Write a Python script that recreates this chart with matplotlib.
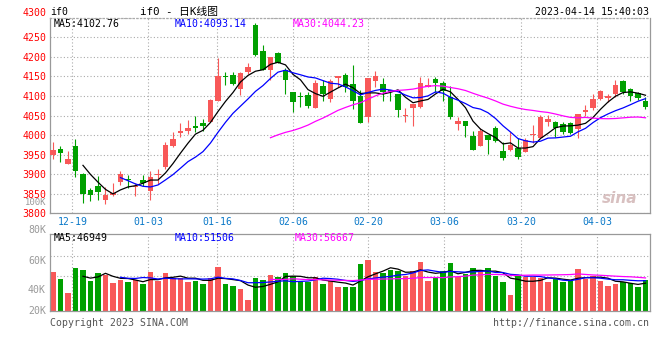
import numpy as np
import pandas as pd
import matplotlib
matplotlib.use('Agg')
import matplotlib.pyplot as plt
import matplotlib.transforms as mtransforms

plt.rcParams['font.family'] = ['DejaVu Sans Mono', 'Noto Sans CJK SC']

# ---------------- data ----------------
opens = [3950, 3965, 3927, 3972, 3900, 3860, 3869, 3833, 3847, 3881,
         3888, 3866, 3885, 3858, 3897, 3919, 3972, 4006, 4011, 4023,
         4031, 4034, 4087, 4151, 4154, 4119, 4160, 4282, 4215, 4167,
         4209, 4167, 4109, 4100, 4102, 4068, 4126, 4093, 4147, 4154,
         4131, 4100, 4047, 4139, 4131, 4115, 4105, 4048, 4068, 4073,
         4124, 4144, 4133, 4098, 4028, 4036, 3998, 3972, 3999, 4017,
         3958, 3963, 3966, 3956, 4000, 3992, 4033, 4033, 4028, 4030,
         4015, 4058, 4070, 4092, 4095, 4104, 4138, 4118, 4107, 4086]
highs = [3981, 3971, 3959, 3990, 3902, 3865, 3896, 3868, 3877, 3909,
         3897, 3877, 3898, 3909, 3913, 3983, 4007, 4030, 4039, 4049,
         4041, 4092, 4196, 4162, 4161, 4162, 4183, 4286, 4230, 4200,
         4212, 4171, 4110, 4111, 4109, 4141, 4141, 4144, 4150, 4158,
         4178, 4115, 4146, 4164, 4145, 4115, 4105, 4070, 4080, 4149,
         4147, 4149, 4137, 4126, 4045, 4036, 4011, 4017, 3999, 4023,
         3983, 4007, 3992, 3992, 4026, 4051, 4051, 4036, 4033, 4033,
         4054, 4077, 4105, 4115, 4105, 4141, 4140, 4121, 4111, 4098]
lows = [3939, 3930, 3927, 3894, 3826, 3832, 3833, 3824, 3845, 3873,
        3864, 3843, 3871, 3833, 3876, 3913, 3970, 3996, 4002, 4009,
        4010, 4033, 4087, 4128, 4128, 4103, 4157, 4203, 4167, 4141,
        4184, 4105, 4060, 4073, 4070, 4068, 4087, 4084, 4124, 4110,
        4066, 4032, 4034, 4124, 4088, 4088, 4045, 4034, 4024, 4068,
        4124, 4111, 4086, 4041, 4013, 3996, 3962, 3972, 3951, 3982,
        3935, 3958, 3938, 3956, 3979, 3992, 4024, 3996, 4003, 4002,
        3992, 4050, 4064, 4089, 4084, 4098, 4106, 4087, 4090, 4066]
closes = [3962, 3953, 3939, 3909, 3850, 3846, 3854, 3847, 3851, 3901,
          3884, 3870, 3878, 3892, 3901, 3975, 3990, 4011, 4019, 4017,
          4024, 4090, 4151, 4148, 4131, 4158, 4174, 4205, 4167, 4200,
          4184, 4141, 4084, 4097, 4075, 4133, 4106, 4138, 4150, 4124,
          4087, 4032, 4146, 4150, 4109, 4109, 4064, 4051, 4080, 4132,
          4128, 4134, 4113, 4045, 4036, 4022, 3962, 4011, 3988, 3985,
          3941, 3975, 3945, 3988, 4003, 4045, 4041, 4017, 4009, 4006,
          4054, 4064, 4092, 4113, 4099, 4128, 4111, 4101, 4096, 4073]
volumes = [67260, 54720, 30780, 74100, 70110, 51300, 64980, 61560, 48450, 53010,
           49590, 52440, 46740, 67260, 51870, 64980, 57000, 57000, 49590, 51870,
           46740, 56430, 75810, 46170, 43320, 37620, 18810, 57000, 53010, 61560,
           58710, 64980, 59850, 51300, 49020, 58710, 46170, 50730, 41610, 41610,
           41610, 80370, 87210, 66690, 64980, 70110, 68970, 60420, 68400, 83790,
           51300, 58140, 68400, 82080, 58140, 63270, 74100, 70110, 74100, 59280,
           49590, 27360, 59850, 58710, 58710, 57000, 49590, 57000, 49590, 51300,
           72390, 54720, 59280, 51300, 42750, 46170, 49590, 47310, 41610, 53010]

date_labels = ['12-19', '01-03', '01-16', '02-06', '02-20', '03-06', '03-20', '04-03']
date_pos = [2.58, 12.71, 21.87, 32.0, 42.0, 52.14, 62.4, 72.54]
price_ticks = [3800, 3850, 3900, 3950, 4000, 4050, 4100, 4150, 4200, 4250, 4300]
vol_labels = ['100K', '80K', '60K', '40K', '20K']

# values as printed on the chart
price_ma_text = ['MA5:4102.76', 'MA10:4093.14', 'MA30:4044.23']
vol_ma_text = ['MA5:46949', 'MA10:51506', 'MA30:56667']

RED = '#f85858'
GREEN = '#00a000'
GRID = '#aaaaaa'
FRAME = '#999999'
FS = 7.1

o = np.array(opens); h = np.array(highs); l = np.array(lows); c = np.array(closes)
v = np.array(volumes)
x = np.arange(len(c))
up = c >= o
cols = np.where(up, RED, GREEN)

cs = pd.Series(c, dtype=float)
vs = pd.Series(v, dtype=float)

W, H = 660, 360
fig = plt.figure(figsize=(6.6, 3.6), dpi=100)


def fx(px):
    return px / W


def fy(py):
    return 1 - py / H


def frame(ax, top_dotted):
    for s in ['left', 'right', 'bottom', 'top']:
        ax.spines[s].set_color(FRAME)
        ax.spines[s].set_linewidth(0.9)
    if top_dotted:
        ax.spines['top'].set_linestyle((0, (1, 2)))
        ax.spines['top'].set_color(GRID)
    ax.tick_params(length=0)


# ---------------- main candle panel ----------------
ax = fig.add_axes([fx(50.5), fy(213.3), fx(599.5), 195.6 / H])
ax.set_xlim(-0.33, 79.6)
ax.set_ylim(3800, 4300)
frame(ax, True)
ax.set_yticks(price_ticks)
ax.set_yticklabels([str(t) for t in price_ticks], color='red', fontsize=FS)
up1 = mtransforms.ScaledTranslation(0, 1.5 / 100, fig.dpi_scale_trans)
for t in ax.get_yticklabels():
    t.set_transform(t.get_transform() + up1)
ax.get_yticklabels()[-1].set_va('bottom')
ax.tick_params(axis='y', pad=3)
ax.set_xticks(date_pos)
ax.set_xticklabels(date_labels, color='#0a78c8', fontsize=FS)
ax.tick_params(axis='x', pad=2.5)
ax.grid(True, color=GRID, linestyle=(0, (1, 2)), linewidth=0.8)
ax.set_axisbelow(True)

ax.vlines(x, l, h, colors=cols, linewidth=0.8, zorder=2)
ax.bar(x, np.maximum(np.abs(c - o), 1.5), bottom=np.minimum(o, c), width=0.76,
       color=cols, linewidth=0, zorder=3)

ax.plot(x, cs.rolling(5).mean(), color='black', linewidth=0.9, zorder=4)
ax.plot(x, cs.rolling(10).mean(), color='blue', linewidth=0.9, zorder=4)
ax.plot(x, cs.rolling(30).mean(), color='magenta', linewidth=0.9, zorder=4)

for txt, px, col in zip(price_ma_text, [54, 175, 293], ['black', 'blue', 'magenta']):
    fig.text(fx(px), fy(24), txt, color=col, fontsize=FS, va='center')

fig.text(fx(620), fy(198), 'sina', color='#d8c0c0', fontsize=11, style='italic',
         fontweight='bold', family='DejaVu Sans', ha='center', va='center')

# ---------------- volume panel ----------------
av = fig.add_axes([fx(50.5), fy(311), fx(599.5), 76.7 / H])
av.set_xlim(-0.33, 79.6)
av.set_ylim(0, 131100)
frame(av, False)
av.set_xticks(date_pos)
av.set_xticklabels([])
av.set_yticks([60420, 94620])
av.set_yticklabels([])
av.grid(True, color=GRID, linestyle=(0, (1, 2)), linewidth=0.8)
av.set_axisbelow(True)
av.bar(x, v, width=0.76, color=cols, linewidth=0, zorder=2)
av.plot(x, vs.rolling(5).mean(), color='black', linewidth=0.9, zorder=3)
av.plot(x, vs.rolling(10).mean(), color='blue', linewidth=0.9, zorder=3)
av.plot(x, vs.rolling(30).mean(), color='magenta', linewidth=0.9, zorder=3)

for txt, px, col in zip(vol_ma_text, [54, 175, 295], ['black', 'blue', 'magenta']):
    fig.text(fx(px), fy(238), txt, color=col, fontsize=FS, va='center')

for lab, py, fs in zip(vol_labels, [202.8, 230, 260.7, 290, 311],
                       [6.4, FS, FS, FS, FS]):
    fig.text(fx(46), fy(py), lab, color='#999999', fontsize=fs, ha='right', va='center')

# ---------------- header / footer ----------------
fig.text(fx(50), fy(12), 'if0', color='black', fontsize=FS, va='center')
fig.text(fx(140), fy(12), 'if0 - 日K线图', color='black', fontsize=7.8, va='center')
fig.text(fx(649), fy(12), '2023-04-14 15:40:03', color='black', fontsize=FS,
         ha='right', va='center')
fig.text(fx(50), fy(323), 'Copyright 2023 SINA.COM', color='#555555', fontsize=FS,
         va='center')
fig.text(fx(649), fy(323), 'http://finance.sina.com.cn', color='#555555', fontsize=FS,
         ha='right', va='center')

fig.savefig('out.png', dpi=100, facecolor='white')
